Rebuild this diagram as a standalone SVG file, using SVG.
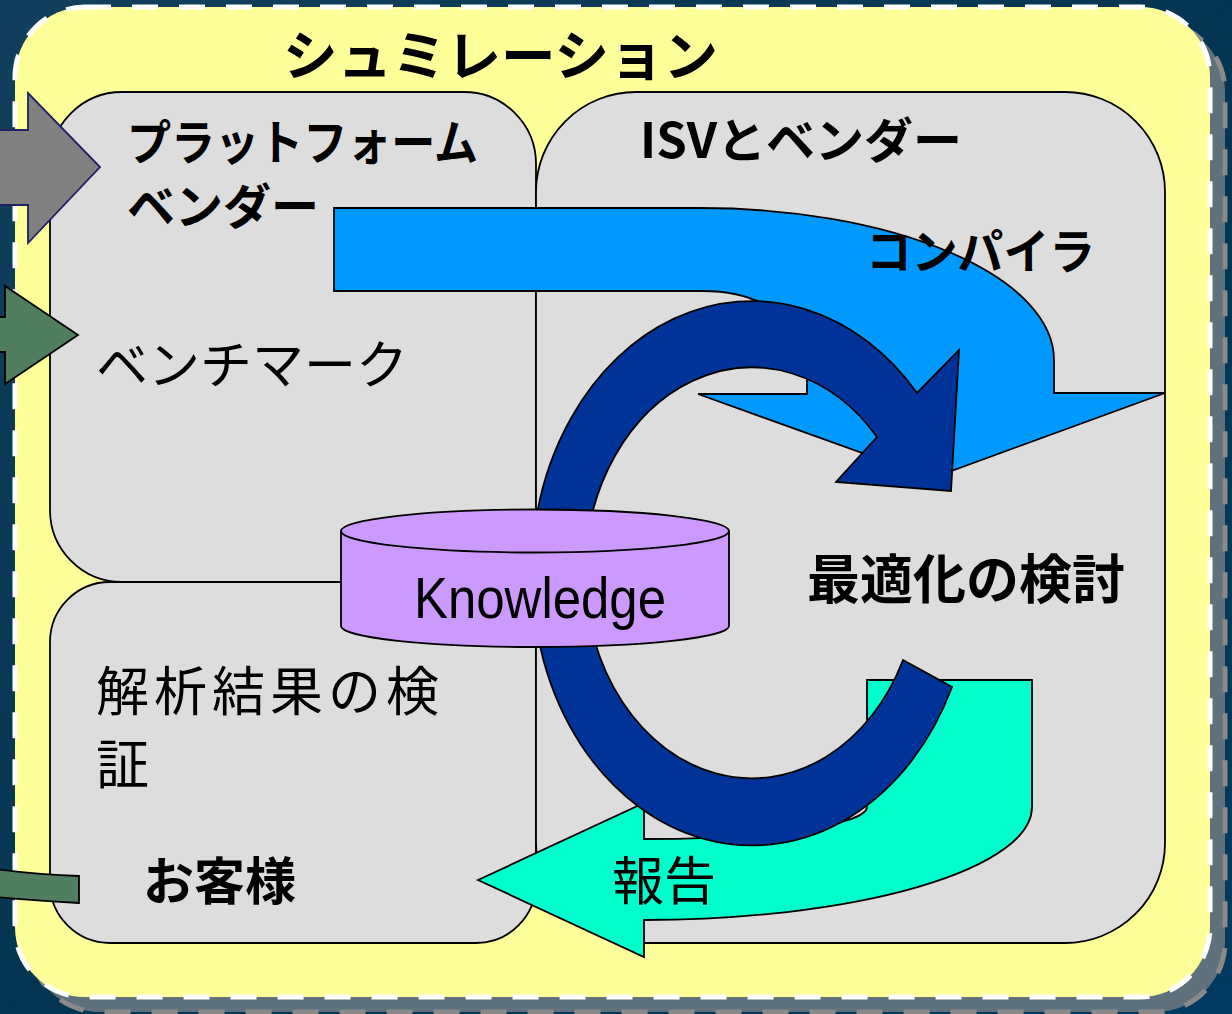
<svg xmlns="http://www.w3.org/2000/svg" width="1232" height="1014" viewBox="0 0 1232 1014">
<defs>
<linearGradient id="bg" x1="0" y1="0" x2="1" y2="1">
<stop offset="0" stop-color="#123f5e"/>
<stop offset="0.5" stop-color="#033552"/>
<stop offset="1" stop-color="#003a60"/>
</linearGradient>
</defs>
<style>
.panel{fill:#dddddd;stroke:#000;stroke-width:1.8}
.jp{font-family:'Noto Sans CJK JP','Noto Sans CJK SC',sans-serif;fill:#000}
.b{font-weight:bold}
.ol{stroke:#000;stroke-width:1.8;stroke-linejoin:miter}
</style>
<rect x="0" y="0" width="1232" height="1014" fill="url(#bg)"/>
<g id="frame">
<rect x="30" y="22" width="1195" height="990" rx="70" fill="#5f717c" stroke="#8a8a8a" stroke-width="5" stroke-dasharray="26 21"/>
<rect x="15" y="7" width="1195" height="990" rx="70" fill="#ffff99" stroke="#ffffff" stroke-width="5" stroke-dasharray="26 21"/>
<text class="jp b" x="283" y="76" font-size="54" textLength="435" lengthAdjust="spacingAndGlyphs">シュミレーション</text>
</g>
<g id="panel-platform">
<rect class="panel" x="50" y="92" width="486" height="490" rx="72"/>
</g>
<g id="panel-customer">
<rect class="panel" x="50" y="582" width="486" height="361" rx="60"/>
</g>
<g id="panel-isv">
<rect class="panel" x="536" y="92" width="629" height="851" rx="100"/>
</g>
<g id="connectors">
<path id="arrow-compiler" class="ol" fill="#0099ff" d="M334,208 L700,208 A354,152 0 0 1 1054,360 L1054,393 L1165,393 L932,478 L698,394 L807,394 L807,360 A104,69 0 0 0 703,291 L334,291 Z"/>
<path id="arrow-report" class="ol" fill="#00ffcc" d="M478,880 L644,803 L644,839 A223,32 0 0 0 867,807 L867,680 L1032,680 L1032,807 A388,113 0 0 1 644,920 L644,957 Z"/>
<path id="cycle-bottom" class="ol" fill="#003399" d="M532,573 A220,271.5 0 0 0 952,687 L903,660 A167,206.5 0 0 1 585,573 Z"/>
<path id="cycle-top" class="ol" fill="#003399" d="M532,573 A220,271.5 0 0 1 917,393 L959,350 L951,491 L836,482 L877,437 A167,206.5 0 0 0 585,573 Z"/>
<path id="in-gray" fill="#808080" stroke="#1f1f66" stroke-width="1.8" d="M-5,130 L28,130 L28,93 L100,167 L28,243 L28,205 L-5,205 Z"/>
<path id="in-green" class="ol" fill="#4f7f5f" d="M-5,317 L5,317 L5,286 L78,335 L5,384 L5,352 L-5,352 Z"/>
<path id="out-green" class="ol" fill="#4f7f5f" d="M-5,869 Q40,875 79,876 L79,903 Q40,901 -5,897 Z"/>
</g>
<g id="knowledge">
<path fill="#cc99ff" stroke="#000" stroke-width="1.8" d="M341,531 L341,626 A194,21 0 0 0 729,626 L729,531"/>
<ellipse cx="535" cy="531" rx="194" ry="21.5" fill="#cc99ff" stroke="#000" stroke-width="1.8"/>
<text x="540" y="618" font-family="'Liberation Sans',Arial,sans-serif" font-size="58" text-anchor="middle" textLength="252" lengthAdjust="spacingAndGlyphs">Knowledge</text>
</g>
<g id="labels">
<text class="jp b" x="127" y="160" font-size="48" textLength="351" lengthAdjust="spacingAndGlyphs">プラットフォーム</text>
<text class="jp b" x="127" y="224" font-size="48">ベンダー</text>
<text class="jp b" x="640" y="158" font-size="48" font-family="'Liberation Sans','Noto Sans CJK JP',sans-serif" textLength="322" lengthAdjust="spacingAndGlyphs">ISVとベンダー</text>
<text class="jp b" x="866" y="269" font-size="48" textLength="229" lengthAdjust="spacingAndGlyphs">コンパイラ</text>
<text class="jp" x="96" y="384" font-size="52">ベンチマーク</text>
<text class="jp b" x="807" y="599" font-size="53">最適化の検討</text>
<text class="jp" x="96" y="711" font-size="53" letter-spacing="5">解析結果の検</text>
<text class="jp" x="96" y="784" font-size="53">証</text>
<text class="jp b" x="143" y="900" font-size="51">お客様</text>
<text class="jp" x="612" y="900" font-size="52">報告</text>
</g>
</svg>
